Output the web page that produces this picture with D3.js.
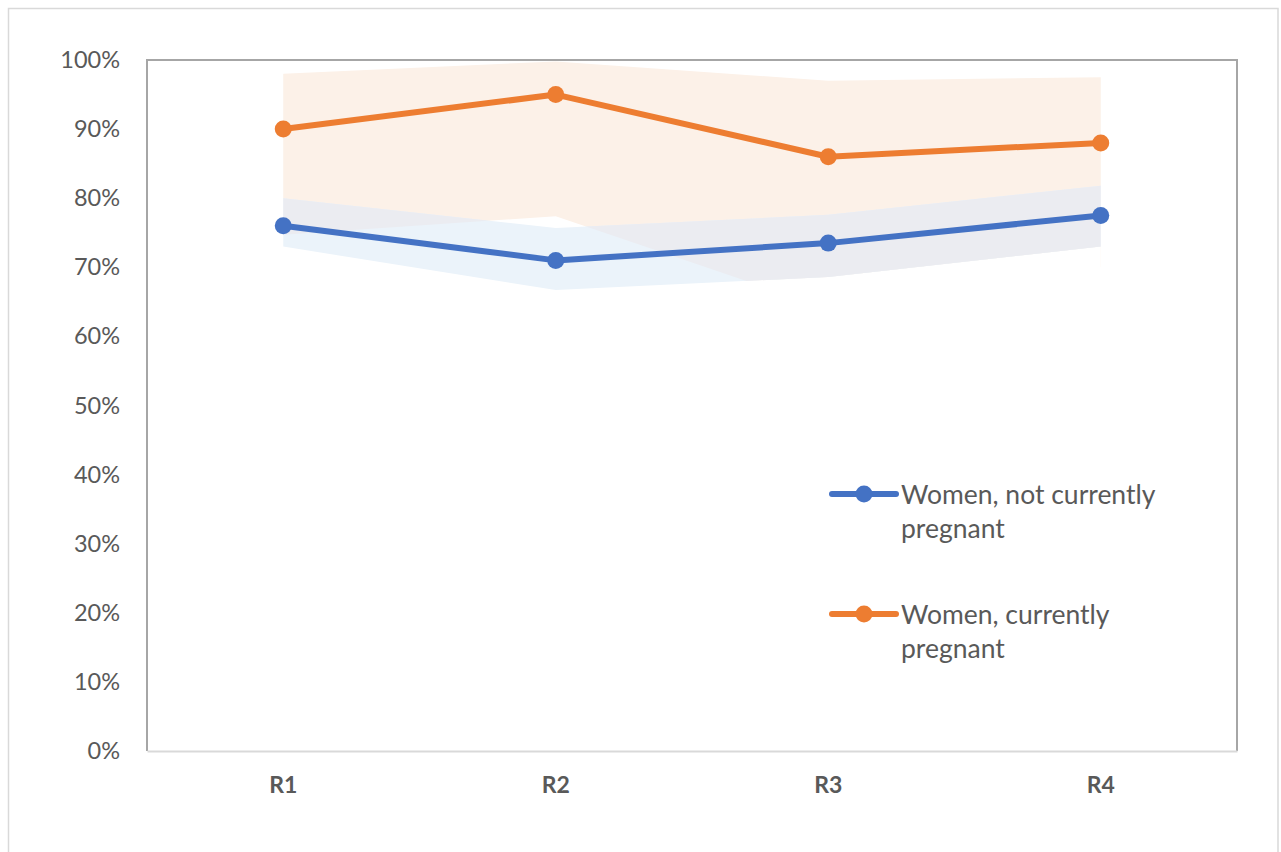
<!DOCTYPE html>
<html>
<head>
<meta charset="utf-8">
<script src="https://cdn.jsdelivr.net/npm/d3@7"></script>
<style>
  html, body { margin: 0; padding: 0; background: #fff; }
  svg { display: block; }
</style>
</head>
<body>
<svg id="chart" width="1281" height="852"></svg>
<script>
// ---- data ----
const categories = ["R1", "R2", "R3", "R4"];
const notPregnant = [76, 71, 73.5, 77.5];
const notPregnantLow = [73, 66.7, 68.6, 73];
const notPregnantHigh = [80, 75.7, 77.6, 81.8];
const pregnant = [90, 95, 86, 88];
const pregnantLow = [74.7, 77.4, 64, 70];
const pregnantHigh = [98, 99.8, 97, 97.5];
const yTicks = [0, 10, 20, 30, 40, 50, 60, 70, 80, 90, 100];
const seriesNames = ["Women, not currently pregnant", "Women, currently pregnant"];

// ---- layout ----
const svg = d3.select("#chart");
const W = 1281, H = 852;
const plot = { left: 147, top: 60, right: 1237, bottom: 751 };
const textColor = "#595959";
const fontFamily = "Lato, 'Open Sans', 'Liberation Sans', sans-serif";
const blue = "#4472C4", orange = "#ED7D31";

// outer chart border
svg.append("rect")
  .attr("x", 8.5).attr("y", 8.5)
  .attr("width", 1278 - 8.5).attr("height", H + 20)
  .attr("fill", "#fff").attr("stroke", "#D9D9D9").attr("stroke-width", 1.5);

const x = d3.scaleBand().domain(categories).range([plot.left, plot.right]);
const xc = d => x(d) + x.bandwidth() / 2;
const y = d3.scaleLinear().domain([0, 100]).range([plot.bottom, plot.top]);

const area = (lo, hi) => d3.area()
  .x((d, i) => xc(categories[i]))
  .y0((d, i) => y(lo[i]))
  .y1((d, i) => y(hi[i]))(categories);
const zeros = categories.map(() => 0);

const defs = svg.append("defs");
defs.append("clipPath").attr("id", "orangeClip")
  .append("path").attr("d", area(pregnantLow, pregnantHigh));
defs.append("clipPath").attr("id", "plotClip")
  .append("rect").attr("x", plot.left).attr("y", plot.top)
  .attr("width", plot.right - plot.left).attr("height", plot.bottom - plot.top);

const bands = svg.append("g").attr("clip-path", "url(#plotClip)");
bands.append("path").attr("d", area(pregnantLow, pregnantHigh)).attr("fill", "#FCF1E8");
// white base of the blue band (stacked-area style) hides anything below its lower bound
bands.append("path").attr("d", area(zeros, notPregnantLow)).attr("fill", "#fff");
bands.append("path").attr("d", area(notPregnantLow, notPregnantHigh)).attr("fill", "#EBF3FA");
bands.append("g").attr("clip-path", "url(#orangeClip)")
  .append("path").attr("d", area(notPregnantLow, notPregnantHigh)).attr("fill", "#EBECF1");

// plot frame
svg.append("path")
  .attr("d", `M${plot.left},${plot.bottom} V${plot.top} H${plot.right} V${plot.bottom}`)
  .attr("fill", "none").attr("stroke", "#A6A6A6").attr("stroke-width", 2);

// x axis line
const xAxis = svg.append("g").attr("transform", `translate(0,${plot.bottom})`)
  .call(d3.axisBottom(x).tickSize(0).tickPadding(26));
xAxis.select(".domain").attr("stroke", "#D9D9D9").attr("stroke-width", 2);
xAxis.selectAll("text")
  .attr("fill", textColor).attr("font-family", fontFamily)
  .attr("font-size", 23).attr("font-weight", "bold");

// y axis
const yAxis = svg.append("g").attr("transform", `translate(${plot.left},0)`)
  .call(d3.axisLeft(y).tickValues(yTicks).tickSize(0).tickPadding(27).tickFormat(d => d + "%"));
yAxis.select(".domain").remove();
yAxis.selectAll("text")
  .attr("fill", textColor).attr("font-family", fontFamily).attr("font-size", 23.5);

// lines + markers
const line = d3.line().x((d, i) => xc(categories[i])).y(d => y(d));
const series = [
  { vals: notPregnant, color: blue },
  { vals: pregnant, color: orange }
];
series.forEach(s => {
  svg.append("path").attr("d", line(s.vals))
    .attr("fill", "none").attr("stroke", s.color).attr("stroke-width", 6)
    .attr("stroke-linejoin", "round");
  svg.selectAll(null).data(s.vals).enter().append("circle")
    .attr("cx", (d, i) => xc(categories[i])).attr("cy", d => y(d))
    .attr("r", 8.5).attr("fill", s.color);
});

// legend
const legendItems = [
  { lines: ["Women, not currently", "pregnant"], color: blue, y: 494 },
  { lines: ["Women, currently", "pregnant"], color: orange, y: 614 }
];
legendItems.forEach(li => {
  const g = svg.append("g");
  g.append("line").attr("x1", 832).attr("x2", 896).attr("y1", li.y).attr("y2", li.y)
    .attr("stroke", li.color).attr("stroke-width", 6).attr("stroke-linecap", "round");
  g.append("circle").attr("cx", 864).attr("cy", li.y).attr("r", 8.5).attr("fill", li.color);
  const t = g.append("text").attr("x", 901).attr("y", li.y + 10)
    .attr("fill", textColor).attr("font-family", fontFamily).attr("font-size", 26.5);
  li.lines.forEach((s, k) => {
    t.append("tspan").attr("x", 901).attr("dy", k === 0 ? 0 : 34).text(s);
  });
});
</script>
</body>
</html>
